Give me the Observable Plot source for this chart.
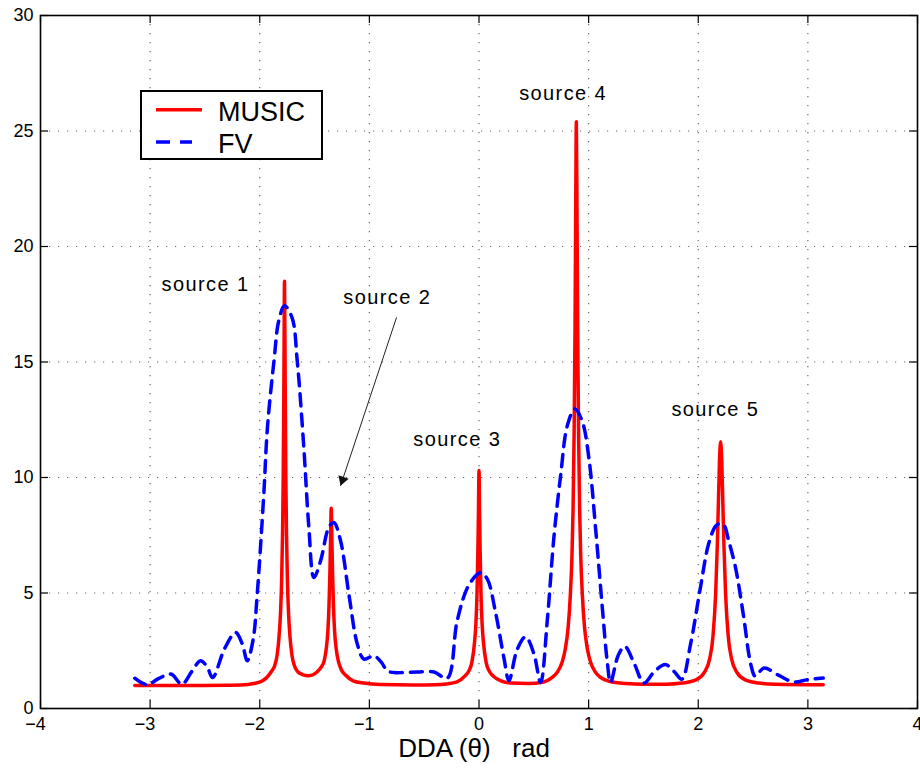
<!DOCTYPE html>
<html><head><meta charset="utf-8">
<script src="https://cdn.jsdelivr.net/npm/d3@7"></script>
<script src="https://cdn.jsdelivr.net/npm/@observablehq/plot@0.6"></script>
<style>
body{margin:0;background:#fff;}
#wrap{position:relative;width:920px;height:772px;font-family:"Liberation Sans",Arial,Helvetica,sans-serif;}
#legend{position:absolute;left:140px;top:90px;}
</style></head><body><div id="wrap"></div>
<script>
// ---- data ----
const xTicks = [-4, -3, -2, -1, 0, 1, 2, 3, 4];
const yTicks = [0, 5, 10, 15, 20, 25, 30];
const seriesNames = ["MUSIC", "FV"];

const musicTheta = [-3.14, -2.6, -2.3, -2.174, -2.054, -1.974, -1.934, -1.894, -1.864, -1.842, -1.824, -1.81, -1.8, -1.792, -1.786, -1.780, -1.774, -1.768, -1.762, -1.756, -1.748, -1.738, -1.724, -1.706, -1.684, -1.654, -1.614, -1.58, -1.552, -1.515, -1.478, -1.438, -1.413, -1.393, -1.378, -1.368, -1.36, -1.354, -1.348, -1.342, -1.336, -1.328, -1.318, -1.303, -1.283, -1.258, -1.218, -1.148, -1.05, -0.9, -0.6, -0.4, -0.3, -0.2, -0.13, -0.09, -0.065, -0.04, -0.028, -0.018, -0.01, -0.005, 0, 0.005, 0.01, 0.018, 0.028, 0.04, 0.065, 0.09, 0.13, 0.2, 0.3, 0.45, 0.588, 0.668, 0.718, 0.758, 0.788, 0.813, 0.833, 0.848, 0.858, 0.868, 0.876, 0.882, 0.888, 0.894, 0.9, 0.908, 0.918, 0.928, 0.943, 0.963, 0.988, 1.018, 1.058, 1.108, 1.188, 1.338, 1.5, 1.704, 1.854, 1.984, 2.054, 2.104, 2.134, 2.159, 2.174, 2.184, 2.194, 2.204, 2.214, 2.224, 2.234, 2.249, 2.274, 2.304, 2.354, 2.424, 2.554, 2.704, 3.14];
const musicValue = [1.0, 1.0, 1.01, 1.02, 1.08, 1.2, 1.35, 1.6, 1.85, 2.3, 3.1, 4.2, 5.6, 7.6, 10.0, 14.0, 18.5, 14.0, 10.0, 7.6, 5.6, 4.2, 3.1, 2.3, 1.85, 1.6, 1.48, 1.43, 1.42, 1.46, 1.58, 1.8, 2.05, 2.6, 3.4, 4.5, 5.9, 7.3, 8.67, 7.3, 5.9, 4.5, 3.4, 2.6, 2.05, 1.7, 1.45, 1.2, 1.1, 1.04, 1.02, 1.03, 1.06, 1.15, 1.4, 1.65, 2.0, 2.9, 3.7, 5.0, 6.9, 8.5, 10.3, 8.5, 6.9, 5.0, 3.7, 2.9, 2.0, 1.65, 1.4, 1.2, 1.1, 1.08, 1.15, 1.35, 1.6, 2.0, 2.6, 3.5, 4.9, 6.6, 8.6, 12.0, 16.5, 21.5, 25.4, 21.5, 16.5, 12.0, 8.6, 6.6, 4.9, 3.5, 2.6, 2.0, 1.6, 1.35, 1.18, 1.08, 1.05, 1.05, 1.1, 1.25, 1.55, 2.15, 3.1, 5.0, 7.1, 8.95, 10.75, 11.55, 10.75, 8.95, 7.1, 5.0, 3.1, 2.15, 1.55, 1.25, 1.1, 1.05, 1.03];

const fvTheta = [-3.14, -3.03, -2.92, -2.81, -2.71, -2.62, -2.54, -2.48, -2.43, -2.32, -2.22, -2.16, -2.114, -2.06, -2.023, -1.963, -1.93, -1.87, -1.826, -1.774, -1.704, -1.658, -1.598, -1.552, -1.506, -1.445, -1.37, -1.324, -1.263, -1.187, -1.11, -1.05, -0.959, -0.89, -0.837, -0.76, -0.685, -0.56, -0.41, -0.29, -0.198, -0.092, 0.015, 0.076, 0.15, 0.227, 0.273, 0.349, 0.425, 0.50, 0.562, 0.623, 0.683, 0.745, 0.806, 0.875, 0.942, 1.003, 1.064, 1.125, 1.17, 1.20, 1.27, 1.33, 1.42, 1.505, 1.60, 1.70, 1.78, 1.85, 1.93, 2.02, 2.095, 2.16, 2.20, 2.24, 2.27, 2.34, 2.41, 2.48, 2.52, 2.60, 2.74, 2.87, 3.0, 3.14];
const fvValue = [1.31, 1.03, 1.3, 1.49, 1.05, 1.6, 2.07, 1.8, 1.34, 2.6, 3.29, 2.8, 2.07, 3.0, 4.95, 9.28, 12.16, 15.05, 16.8, 17.43, 16.9, 15.05, 11.3, 7.84, 5.67, 6.39, 7.84, 8.05, 7.26, 4.95, 2.79, 2.14, 2.28, 2.0, 1.63, 1.55, 1.56, 1.58, 1.58, 1.31, 3.82, 5.35, 5.88, 5.6, 4.18, 2.2, 1.21, 2.56, 3.1, 2.38, 1.13, 3.82, 7.4, 10.1, 12.25, 12.97, 12.43, 10.82, 7.77, 4.36, 2.02, 1.13, 2.3, 2.69, 1.9, 1.1, 1.6, 1.9, 1.6, 1.27, 2.79, 5.24, 7.13, 7.9, 8.0, 7.9, 7.4, 6.1, 4.1, 1.9, 1.4, 1.75, 1.42, 1.15, 1.25, 1.32];

const labelText = ["source 1", "source 2", "source 3", "source 4", "source 5"];
const labelTheta = [-2.495, -0.837, -0.198, 0.767, 2.156];
const labelValue = [18.33, 17.78, 11.63, 26.63, 12.95];

// arrow pointing at source 2: from [x1,y1] to tip [x2,y2]
const arrowFrom = [-0.752, 16.93];
const arrowTo = [-1.263, 9.64];

const xLabel = "DDA (\u03b8)\u00a0\u00a0\u00a0rad";

// ---- build tables ----
const music = musicTheta.map((x, i) => ({x, y: musicValue[i]}));
const fv = fvTheta.map((x, i) => ({x, y: fvValue[i]}));
const labels = labelText.map((t, i) => ({t, x: labelTheta[i], y: labelValue[i]}));
const arrow = [{x1: arrowFrom[0], y1: arrowFrom[1], x2: arrowTo[0], y2: arrowTo[1]}];

const W = 920, H = 772, mL = 40, mR = 3, mT = 15, mB = 64;
const frameH = H - mT - mB, frameW = W - mL - mR;
const tick = 8;
const gridStyle = {stroke: "#6a6a6a", strokeOpacity: 1, strokeWidth: 1.2, strokeDasharray: "1.2,7.8"};

const chart = Plot.plot({
  width: W, height: H,
  marginLeft: mL, marginRight: mR, marginTop: mT, marginBottom: mB,
  style: {fontFamily: "Liberation Sans, Arial, sans-serif", fontSize: "18px", color: "#000", background: "#fff", overflow: "visible"},
  x: {domain: [-4, 4]},
  y: {domain: [0, 30]},
  marks: [
    Plot.gridX(xTicks.slice(1, -1), gridStyle),
    Plot.gridY(yTicks.slice(1, -1), gridStyle),
    // inward ticks on all four sides
    Plot.ruleX(xTicks, {x: d => d, insetTop: frameH - tick, stroke: "#000", strokeWidth: 1.2}),
    Plot.ruleX(xTicks, {x: d => d, insetBottom: frameH - tick, stroke: "#000", strokeWidth: 1.2}),
    Plot.ruleY(yTicks, {y: d => d, insetRight: frameW - tick, stroke: "#000", strokeWidth: 1.2}),
    Plot.ruleY(yTicks, {y: d => d, insetLeft: frameW - tick, stroke: "#000", strokeWidth: 1.2}),
    Plot.axisX(xTicks.filter(d => d < 0), {tickSize: 0, tickPadding: 9, dx: -5, label: null, fontSize: 18}),
    Plot.axisX(xTicks.filter(d => d >= 0), {tickSize: 0, tickPadding: 9, label: null, fontSize: 18}),
    Plot.axisY(yTicks, {tickSize: 0, tickPadding: 7, label: null, fontSize: 18}),
    Plot.line(music, {x: "x", y: "y", stroke: "#ff0000", strokeWidth: 3.5, curve: "monotone-x"}),
    Plot.line(fv, {x: "x", y: "y", stroke: "#0000ff", strokeWidth: 3.5, strokeDasharray: "12,8", curve: "catmull-rom"}),
    Plot.link(arrow, {x1: "x1", y1: "y1", x2: "x2", y2: "y2", stroke: "#222", strokeWidth: 1}),
    Plot.dot(arrow, {x: "x2", y: "y2", symbol: "triangle", r: 4, rotate: 198.4, fill: "#111", stroke: null, dx: 2, dy: -5.9}),
    Plot.text(labels, {x: "x", y: "y", text: "t", fontSize: 20, fill: "#000"}),
    Plot.text([xLabel], {text: d => d, frameAnchor: "bottom", dy: 48, dx: -5, fontSize: 26, fill: "#000"}),
    Plot.frame({stroke: "#000", strokeWidth: 1.6})
  ]
});
d3.select(chart).selectAll("text")
  .filter(function() { return labelText.includes(this.textContent); })
  .style("letter-spacing", "1.4px");

const wrap = document.getElementById("wrap");
wrap.appendChild(chart);

// legend overlay (inside the axes, top-left)
const ns = "http://www.w3.org/2000/svg";
const leg = d3.create("svg").attr("id", "legend").attr("width", 184).attr("height", 71)
  .attr("xmlns", ns).style("position", "absolute").style("left", "140px").style("top", "90px");
leg.append("rect").attr("x", 1).attr("y", 1).attr("width", 181).attr("height", 68)
  .attr("fill", "#fff").attr("stroke", "#000").attr("stroke-width", 2);
leg.append("line").attr("x1", 16).attr("x2", 62).attr("y1", 19.7).attr("y2", 19.7)
  .attr("stroke", "#ff0000").attr("stroke-width", 3.5);
leg.append("line").attr("x1", 16).attr("x2", 52).attr("y1", 52).attr("y2", 52)
  .attr("stroke", "#0000ff").attr("stroke-width", 3.5).attr("stroke-dasharray", "14,10");
leg.append("text").attr("x", 78).attr("y", 30.7).attr("font-size", 27)
  .attr("font-family", "Liberation Sans, Arial, sans-serif").text(seriesNames[0]);
leg.append("text").attr("x", 78).attr("y", 62.7).attr("font-size", 27)
  .attr("font-family", "Liberation Sans, Arial, sans-serif").text(seriesNames[1]);
wrap.appendChild(leg.node());
</script></body></html>
